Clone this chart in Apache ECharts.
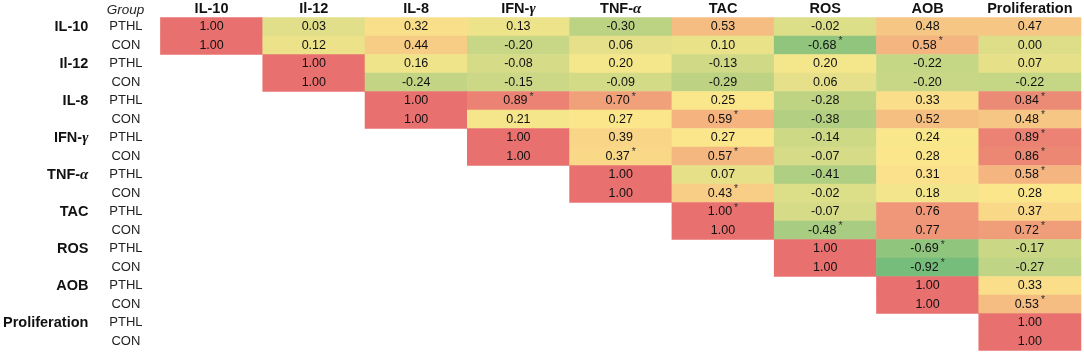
<!DOCTYPE html>
<html>
<head>
<meta charset="utf-8">
<script src="https://cdn.jsdelivr.net/npm/echarts@6/dist/echarts.min.js"></script>
<style>
  html, body { margin: 0; padding: 0; background: #fff; }
  #chart { width: 1084px; height: 354px; }
</style>
</head>
<body>
<div id="chart"></div>
<script>
  const variables = ['IL-10', 'Il-12', 'IL-8', 'IFN-γ', 'TNF-α', 'TAC', 'ROS', 'AOB', 'Proliferation'];
  const groups = ['PTHL', 'CON'];

  // each row starts at the diagonal (upper triangle only)
  const pthlValues = [
    [1.00, 0.03, 0.32, 0.13, -0.30, 0.53, -0.02, 0.48, 0.47],
    [1.00, 0.16, -0.08, 0.20, -0.13, 0.20, -0.22, 0.07],
    [1.00, 0.89, 0.70, 0.25, -0.28, 0.33, 0.84],
    [1.00, 0.39, 0.27, -0.14, 0.24, 0.89],
    [1.00, 0.07, -0.41, 0.31, 0.58],
    [1.00, -0.07, 0.76, 0.37],
    [1.00, -0.69, -0.17],
    [1.00, 0.33],
    [1.00]
  ];
  const conValues = [
    [1.00, 0.12, 0.44, -0.20, 0.06, 0.10, -0.68, 0.58, 0.00],
    [1.00, -0.24, -0.15, -0.09, -0.29, 0.06, -0.20, -0.22],
    [1.00, 0.21, 0.27, 0.59, -0.38, 0.52, 0.48],
    [1.00, 0.37, 0.57, -0.07, 0.28, 0.86],
    [1.00, 0.43, -0.02, 0.18, 0.28],
    [1.00, -0.48, 0.77, 0.72],
    [1.00, -0.92, -0.27],
    [1.00, 0.53],
    [1.00]
  ];
  // cells marked with * : [row variable, group, column variable]
  const starred = [
    ['IL-10', 'CON', 'ROS'], ['IL-10', 'CON', 'AOB'],
    ['IL-8', 'PTHL', 'IFN-γ'], ['IL-8', 'PTHL', 'TNF-α'], ['IL-8', 'PTHL', 'Proliferation'],
    ['IL-8', 'CON', 'TAC'], ['IL-8', 'CON', 'Proliferation'],
    ['IFN-γ', 'PTHL', 'Proliferation'],
    ['IFN-γ', 'CON', 'TNF-α'], ['IFN-γ', 'CON', 'TAC'], ['IFN-γ', 'CON', 'Proliferation'],
    ['TNF-α', 'PTHL', 'Proliferation'],
    ['TNF-α', 'CON', 'TAC'],
    ['TAC', 'PTHL', 'TAC'],
    ['TAC', 'CON', 'ROS'], ['TAC', 'CON', 'Proliferation'],
    ['ROS', 'PTHL', 'AOB'], ['ROS', 'CON', 'AOB'],
    ['AOB', 'CON', 'Proliferation']
  ];

  const FONT = '"Liberation Sans", Arial, sans-serif';

  // row keys: one per variable x group
  const rowKeys = [];
  variables.forEach(v => groups.forEach(g => rowKeys.push(v + '|' + g)));

  const isStarred = (rowVar, grp, colVar) =>
    starred.some(s => s[0] === rowVar && s[1] === grp && s[2] === colVar);

  const cells = [];
  variables.forEach((rowVar, i) => {
    [pthlValues[i], conValues[i]].forEach((vals, g) => {
      vals.forEach((val, k) => {
        const col = i + k;
        cells.push({
          value: [col, i * 2 + g, val],
          star: isStarred(rowVar, groups[g], variables[col])
        });
      });
    });
  });

  // excel-like 3 colour scale: green -> yellow -> red
  const lowColor = [118, 188, 122], midColor = [252, 232, 140], highColor = [232, 112, 110];
  const scaleMin = -0.92, scaleMid = 0.27, scaleMax = 1.0;
  const buildPalette = (n) => {
    const out = [];
    for (let s = 0; s < n; s++) {
      const v = scaleMin + (scaleMax - scaleMin) * s / (n - 1);
      let a, b, t;
      if (v <= scaleMid) { a = lowColor; b = midColor; t = (v - scaleMin) / (scaleMid - scaleMin); }
      else { a = midColor; b = highColor; t = (v - scaleMid) / (scaleMax - scaleMid); }
      const c = a.map((x, j) => Math.round(x + (b[j] - x) * t));
      out.push('rgb(' + c.join(',') + ')');
    }
    return out;
  };

  const greek = (name) => name.replace(/([γα])/, '{i|$1}');
  const greekRich = { i: { fontFamily: '"Liberation Serif", serif', fontStyle: 'italic', fontSize: 15, color: '#111' } };

  const option = {
    animation: false,
    grid: { left: 160, right: 3, top: 17.5, height: 333 },
    graphic: [{
      type: 'text', x: 125.5, y: 10,
      style: { text: 'Group', font: 'italic 13.5px ' + FONT, fill: '#222', align: 'center', verticalAlign: 'middle' }
    }],
    xAxis: {
      type: 'category', position: 'top', data: variables,
      axisLine: { show: false }, axisTick: { show: false }, splitLine: { show: false },
      axisLabel: {
        interval: 0, margin: 1, fontSize: 14.5, fontWeight: 'bold', fontFamily: FONT, color: '#111',
        formatter: greek, rich: greekRich
      }
    },
    yAxis: [{
      type: 'category', inverse: true, data: rowKeys,
      axisLine: { show: false }, axisTick: { show: false }, splitLine: { show: false },
      axisLabel: {
        margin: 72, fontSize: 14.5, fontWeight: 'bold', fontFamily: FONT, color: '#111', interval: 0,
        formatter: (key) => {
          const [v, g] = key.split('|');
          return g === 'PTHL' ? greek(v) : '';
        },
        rich: greekRich
      }
    }, {
      type: 'category', inverse: true, data: rowKeys, position: 'left',
      axisLine: { show: false }, axisTick: { show: false }, splitLine: { show: false },
      axisLabel: {
        margin: 34.5, align: 'center', fontSize: 13, fontFamily: FONT, color: '#222', interval: 0,
        formatter: (key) => key.split('|')[1]
      }
    }],
    visualMap: {
      type: 'continuous', show: false, dimension: 2,
      min: scaleMin, max: scaleMax,
      inRange: { color: buildPalette(41) }
    },
    series: [{
      type: 'heatmap', xAxisIndex: 0, yAxisIndex: 0,
      data: cells,
      itemStyle: { borderWidth: 0 },
      label: {
        show: true, fontSize: 12.5, fontFamily: FONT, color: '#111',
        formatter: (p) => p.value[2].toFixed(2) + (p.data.star ? '{s|*}' : ''),
        rich: { s: { fontSize: 10.5, fontFamily: FONT, color: '#333', padding: [0, 0, 8, 2] } }
      },
      emphasis: { disabled: true }
    }]
  };

  const initEcharts = () => {
    var myChart = echarts.init(document.getElementById('chart'));
    option && myChart.setOption(option);
  };
  initEcharts();
</script>
</body>
</html>
